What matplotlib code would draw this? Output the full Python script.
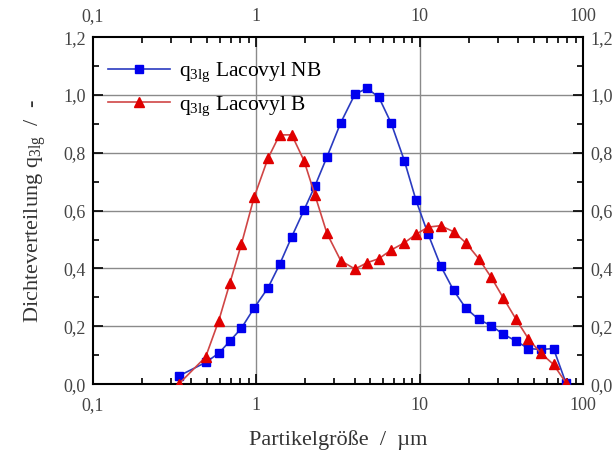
import matplotlib.pyplot as plt
from matplotlib.ticker import FixedLocator, MultipleLocator, FuncFormatter, LogLocator, NullFormatter

plt.rcParams['font.family'] = ['Liberation Serif', 'DejaVu Serif']
plt.rcParams['mathtext.fontset'] = 'custom'
plt.rcParams['mathtext.rm'] = 'Liberation Serif'
plt.rcParams['mathtext.it'] = 'Liberation Serif'

# particle size classes (um)
size = [0.335, 0.49, 0.59, 0.69, 0.81, 0.97, 1.18, 1.39, 1.65, 1.96, 2.29, 2.71,
        3.29, 4.02, 4.77, 5.63, 6.7, 8.07, 9.5, 11.25, 13.45, 16.15, 19.15, 23.0,
        27.45, 32.45, 38.95, 46.3, 55.0, 66.0, 78.5]

q_nb = [0.028, 0.075, 0.107, 0.149, 0.193, 0.263, 0.333, 0.414, 0.51, 0.602, 0.686, 0.786,
        0.904, 1.003, 1.023, 0.992, 0.902, 0.772, 0.636, 0.52, 0.409, 0.324, 0.263, 0.224,
        0.202, 0.173, 0.149, 0.123, 0.12, 0.123, 0.005]

q_b = [0.0, 0.094, 0.22, 0.35, 0.483, 0.646, 0.781, 0.862, 0.862, 0.773, 0.653, 0.521,
       0.427, 0.398, 0.42, 0.434, 0.464, 0.489, 0.518, 0.543, 0.548, 0.527, 0.489, 0.434,
       0.369, 0.299, 0.224, 0.157, 0.108, 0.068, 0.005]

x_ticks = [0.1, 1, 10, 100]
y_ticks = [0.0, 0.2, 0.4, 0.6, 0.8, 1.0, 1.2]


def x_fmt(v, pos=None):
    if v >= 1:
        return "%d" % round(v)
    return ("%.1f" % v).replace(".", ",")


def y_fmt(v, pos=None):
    return ("%.1f" % v).replace(".", ",")


fig = plt.figure(figsize=(6.15, 4.53), dpi=100)
ax = fig.add_axes([0.151, 0.152, 0.797, 0.766])

ax.plot(size, q_nb, "-s", color="#2a3bc0", lw=1.2, markersize=6.3,
        markerfacecolor="#0000ee", markeredgecolor="#0000ee",
        label=r"q$_{\mathrm{3lg}}$ Lacovyl NB", zorder=3)
ax.plot(size, q_b, "-^", color="#d04545", lw=1.2, markersize=7.5,
        markerfacecolor="#e00000", markeredgecolor="#e00000",
        label=r"q$_{\mathrm{3lg}}$ Lacovyl B", zorder=3)

ax.set_xscale("log")
ax.set_xlim(0.1, 100)
ax.set_ylim(0, 1.2)

ax.xaxis.set_major_locator(FixedLocator(x_ticks))
ax.xaxis.set_major_formatter(FuncFormatter(x_fmt))
ax.xaxis.set_minor_locator(LogLocator(base=10, subs=range(2, 10)))
ax.xaxis.set_minor_formatter(NullFormatter())
ax.yaxis.set_major_locator(FixedLocator(y_ticks))
ax.yaxis.set_major_formatter(FuncFormatter(y_fmt))
ax.yaxis.set_minor_locator(MultipleLocator(0.1))

ax.tick_params(which="both", direction="in", top=True, right=True,
               labeltop=True, labelright=True, width=1.2)
ax.tick_params(which="major", length=7, labelsize=13, labelcolor="#444444")
ax.tick_params(axis="x", which="major", pad=9)
ax.tick_params(axis="y", which="major", pad=5)
ax.tick_params(which="minor", length=4)

for s in ax.spines.values():
    s.set_linewidth(1.5)

for v in [0.2, 0.4, 0.6, 0.8, 1.0]:
    ax.axhline(v, color="#8a8a8a", lw=1.0, zorder=1)
for v in [1, 10]:
    ax.axvline(v, color="#8a8a8a", lw=1.0, zorder=1)

ax.set_xlabel("Partikelgröße  /  µm", fontsize=16, color="#333333", labelpad=12)
ax.set_ylabel(r"Dichteverteilung q$_{\mathrm{3lg}}$  /  -", fontsize=16, color="#333333", labelpad=11)

ax.legend(loc="upper left", bbox_to_anchor=(0.0, 0.975), frameon=False, fontsize=15.5,
          handlelength=2.9, handletextpad=0.4, labelspacing=0.45, borderaxespad=0.3)

fig.savefig("out.png", dpi=100)
